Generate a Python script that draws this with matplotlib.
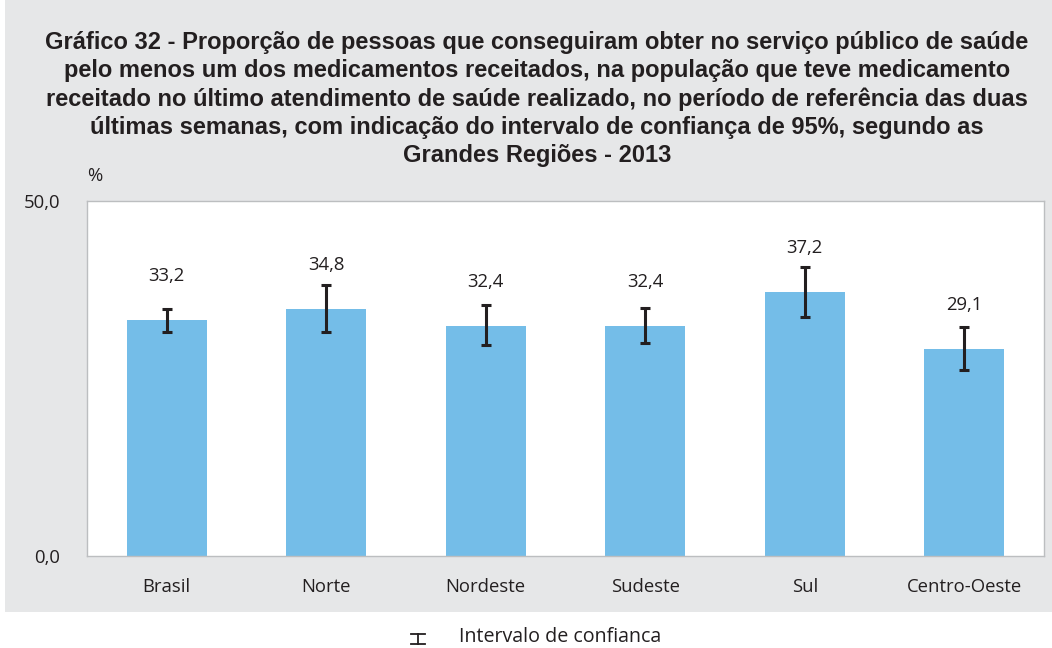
import matplotlib
matplotlib.use("Agg")
import matplotlib.pyplot as plt
from matplotlib.patches import Rectangle
from matplotlib.lines import Line2D

categories = ["Brasil", "Norte", "Nordeste", "Sudeste", "Sul", "Centro-Oeste"]
values = [33.2, 34.8, 32.4, 32.4, 37.2, 29.1]
ci_lower = [31.6, 31.6, 29.7, 30.0, 33.7, 26.2]
ci_upper = [34.8, 38.2, 35.3, 35.0, 40.7, 32.2]
value_labels = ["33,2", "34,8", "32,4", "32,4", "37,2", "29,1"]
ytick_vals = [0, 50]
ytick_labels = ["0,0", "50,0"]

title = ("Gráfico 32 - Proporção de pessoas que conseguiram obter no serviço público de saúde\n"
         "pelo menos um dos medicamentos receitados, na população que teve medicamento\n"
         "receitado no último atendimento de saúde realizado, no período de referência das duas\n"
         "últimas semanas, com indicação do intervalo de confiança de 95%, segundo as\n"
         "Grandes Regiões - 2013")

plt.rcParams['font.family'] = ['Open Sans', 'DejaVu Sans']
FS = 13.3
TXT = "#231f20"

W, H = 1052, 648
fig = plt.figure(figsize=(W / 100, H / 100), dpi=100)
fig.patch.set_facecolor("white")

bg = Rectangle((5 / W, (H - 612) / H), 1 - 5 / W, 612 / H, transform=fig.transFigure,
               facecolor="#e6e7e8", edgecolor="none", zorder=-10)
fig.patches.append(bg)

ax = fig.add_axes([87 / W, (H - 556) / H, (1044 - 87) / W, (556 - 201) / H])
ax.set_zorder(2)
ax.set_facecolor("white")

x = list(range(len(categories)))
ax.bar(x, values, width=0.5, color="#74bde8", zorder=2)
yerr = [[v - lo for v, lo in zip(values, ci_lower)], [hi - v for v, hi in zip(values, ci_upper)]]
ax.errorbar(x, values, yerr=yerr, fmt="none", ecolor=TXT, elinewidth=2.2,
            capsize=3.5, capthick=2.2, zorder=3)

for xi, v, lab in zip(x, values, value_labels):
    ax.text(xi, v + 6.2, lab, ha="center", va="center", fontsize=FS, color=TXT)

ax.set_xlim(-0.5, len(categories) - 0.5)
ax.set_ylim(0, 50)
ax.set_yticks(ytick_vals)
ax.set_yticklabels(ytick_labels, fontsize=FS, color=TXT)
ax.set_xticks(x)
ax.set_xticklabels(categories, fontsize=FS, color=TXT)
ax.tick_params(axis="x", length=0, pad=16)
ax.tick_params(axis="y", length=0, pad=19)
for s in ax.spines.values():
    s.set_color("#bcbec0")
    s.set_linewidth(1)

fig.text(537 / W, 1 - 99 / H, title, ha="center", va="center", fontsize=17,
         fontweight="bold", color=TXT, linespacing=1.28, family=['Liberation Sans', 'DejaVu Sans'])
fig.text(95 / W, 1 - 176 / H, "%", ha="center", va="center", fontsize=FS, color=TXT)

# legend
lx, ly = 418 / W, 1 - 639 / H
for yy in (ly + 5 / H, ly - 5 / H):
    fig.lines.append(Line2D([lx - 7 / W, lx + 7 / W], [yy, yy], transform=fig.transFigure, color=TXT, lw=1.3))
fig.lines.append(Line2D([lx, lx], [ly - 5 / H, ly + 5 / H], transform=fig.transFigure, color=TXT, lw=1.3))
fig.text(459 / W, 1 - 642 / H, "Intervalo de confianca", ha="left", va="baseline", fontsize=14.1, color=TXT)

fig.savefig("out.png", dpi=100)
